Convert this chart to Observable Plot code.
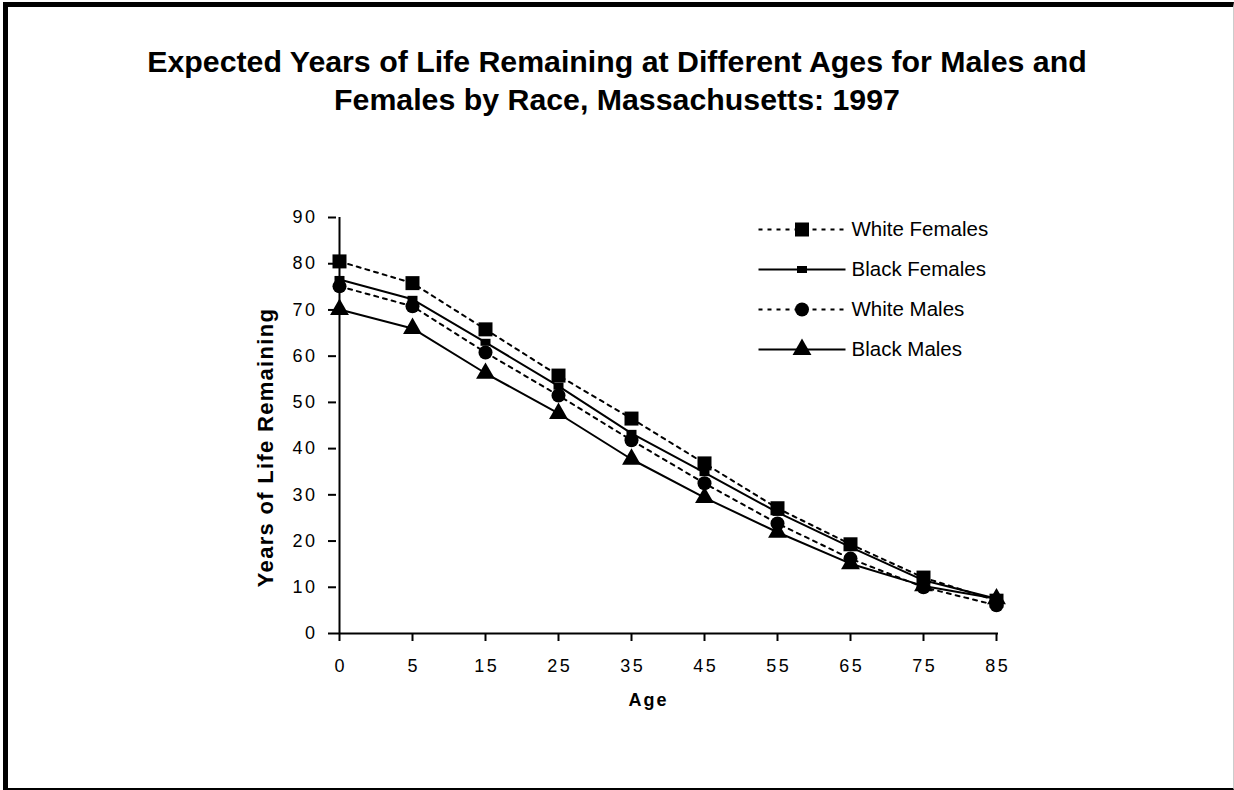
<!DOCTYPE html>
<html>
<head>
<meta charset="utf-8">
<script src="https://cdn.jsdelivr.net/npm/d3@7"></script>
<script src="https://cdn.jsdelivr.net/npm/@observablehq/plot@0.6"></script>
<style>
  body { margin: 0; background: #fff; font-family: Arial, "Liberation Sans", sans-serif; }
  #frame { position: absolute; left: 3px; top: 2px; width: 1231px; height: 788px; box-sizing: border-box;
           border-left: 5px solid #000; border-top: 5px solid #000; border-right: 1px solid #ccc; border-bottom: 2px solid #000; }
  #title { position: absolute; left: 0; top: 43px; width: 1234px; text-align: center; font-weight: bold;
           font-size: 30.3px; line-height: 38px; color: #000; }
  #chart { position: absolute; left: 0; top: 0; }
  #legend { position: absolute; left: 750px; top: 209px; }
  svg [aria-label="y-axis tick label"] text, svg .xtick text { letter-spacing: 2.5px; }
  svg .ylab text { letter-spacing: 1.3px; }
  svg .xlab text { letter-spacing: 2px; }
</style>
</head>
<body>
<div id="frame"></div>
<div id="title">Expected Years of Life Remaining at Different Ages for Males and<br>Females by Race, Massachusetts: 1997</div>
<div id="chart"></div>
<div id="legend"></div>
<script>
// ---- data ----
const ages = ["0", "5", "15", "25", "35", "45", "55", "65", "75", "85"];
const whiteFemales = [80.5, 75.8, 65.8, 55.8, 46.5, 36.8, 27.1, 19.3, 12.1, 7.1];
const blackFemales = [76.6, 72.3, 63.0, 53.5, 43.3, 34.8, 26.2, 18.7, 11.5, 7.5];
const whiteMales   = [75.1, 70.8, 60.8, 51.5, 41.8, 32.5, 23.8, 16.2, 10.0, 6.1];
const blackMales   = [70.1, 66.0, 56.3, 47.6, 37.7, 29.4, 21.9, 15.1, 10.3, 7.5];
const seriesNames = ["White Females", "Black Females", "White Males", "Black Males"];
const yTicks = [0, 10, 20, 30, 40, 50, 60, 70, 80, 90];
const titleText = "Expected Years of Life Remaining at Different Ages for Males and Females by Race, Massachusetts: 1997";
const xLabel = "Age";
const yLabel = "Years of Life Remaining";

// ---- styles ----
const flatRect = { draw(ctx) { ctx.moveTo(-5, -3.5); ctx.lineTo(5, -3.5); ctx.lineTo(5, 3.5); ctx.lineTo(-5, 3.5); ctx.closePath(); } };
const seriesStyle = {
  "White Females": { dash: "4,5", symbol: "square", r: 7.9 },
  "Black Females": { dash: null, symbol: flatRect, r: 5 },
  "White Males":   { dash: "4,5", symbol: "circle", r: 7 },
  "Black Males":   { dash: null, symbol: "triangle", r: 7 }
};
const valuesBySeries = {
  "White Females": whiteFemales, "Black Females": blackFemales,
  "White Males": whiteMales, "Black Males": blackMales
};
const rows = seriesNames.flatMap(s => ages.map((a, i) => ({ age: a, value: valuesBySeries[s][i], series: s })));

const yMax = yTicks[yTicks.length - 1];
const marks = [
  Plot.ruleY([0], { stroke: "#000", strokeWidth: 2 }),
  Plot.ruleX([ages[0]], { y1: 0, y2: yMax, stroke: "#000", strokeWidth: 2 }),
  Plot.axisY({ ticks: yTicks, tickSize: 8, tickPadding: 11, stroke: "#000", strokeWidth: 2, fill: "#000", fontSize: 18, label: null }),
  // x ticks (point scale) and labels
  Plot.ruleX(ages, { x: d => d, y1: 0, y2: -yMax * 8 / 416, stroke: "#000", strokeWidth: 2 }),
  Plot.text(ages, { x: d => d, y: 0, dy: 33, text: d => d, fontSize: 18, fill: "#000", className: "xtick", dx: 1.2 })
];
for (const s of seriesNames) {
  const st = seriesStyle[s];
  const data = rows.filter(d => d.series === s);
  marks.push(Plot.line(data, { x: "age", y: "value", stroke: "#000", strokeWidth: 2, strokeDasharray: st.dash || undefined }));
}
for (const s of seriesNames) {
  const st = seriesStyle[s];
  const data = rows.filter(d => d.series === s);
  marks.push(Plot.dot(data, { x: "age", y: "value", symbol: () => st.symbol, r: st.r, fill: "#000", stroke: "none" }));
}
marks.push(Plot.text([xLabel], { frameAnchor: "bottom", text: d => d, dx: -19, dy: 72, fontWeight: "bold", fontSize: 18, fill: "#000", className: "xlab" }));
marks.push(Plot.text([yLabel], { frameAnchor: "left", textAnchor: "middle", text: d => d, rotate: -90, dx: -71, dy: 22, fontWeight: "bold", fontSize: 22, fill: "#000", className: "ylab" }));

const chart = Plot.plot({
  width: 1234, height: 790,
  marginLeft: 336, marginRight: 236, marginTop: 217, marginBottom: 157,
  style: { fontFamily: "Arial, 'Liberation Sans', sans-serif", background: "transparent", overflow: "visible", color: "#000" },
  x: { type: "point", domain: ages, padding: 0, axis: null },
  y: { domain: [0, yMax], axis: null },
  symbol: { type: "identity" },
  marks
});
chart.setAttribute("aria-label", titleText);
document.getElementById("chart").appendChild(chart);

// ---- legend ----
const legendRows = seriesNames.map(n => ({ name: n }));
const legendMarks = [];
for (const s of seriesNames) {
  const st = seriesStyle[s];
  legendMarks.push(Plot.link([{ name: s }], { x1: () => 0, x2: () => 1, y1: "name", y2: "name", stroke: "#000", strokeWidth: 2, strokeDasharray: st.dash || undefined }));
  legendMarks.push(Plot.dot([{ name: s }], { x: () => 0.5, y: "name", symbol: () => st.symbol, r: st.r, fill: "#000", stroke: "none" }));
}
legendMarks.push(Plot.text(legendRows, { x: () => 1, y: "name", text: "name", dx: 6, textAnchor: "start", fontSize: 20.5, fill: "#000" }));
const legend = Plot.plot({
  width: 260, height: 160, marginLeft: 8, marginRight: 165, marginTop: 20, marginBottom: 20,
  style: { fontFamily: "Arial, 'Liberation Sans', sans-serif", background: "transparent", overflow: "visible" },
  x: { domain: [0, 1], axis: null },
  y: { type: "point", domain: seriesNames, padding: 0, axis: null },
  symbol: { type: "identity" },
  marks: legendMarks
});
document.getElementById("legend").appendChild(legend);
</script>
</body>
</html>
